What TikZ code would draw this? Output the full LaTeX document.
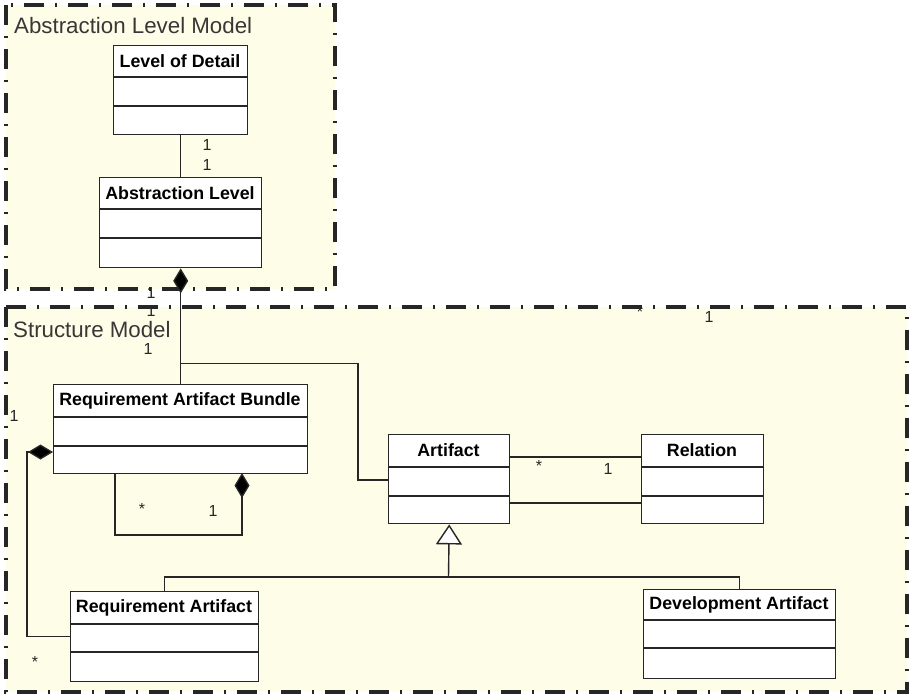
\documentclass[tikz,border=0pt]{standalone}
\usepackage{fontspec}
\setmainfont{Liberation Sans}
\usetikzlibrary{arrows.meta,calc}

\definecolor{pkgfill}{RGB}{254,254,232}
\definecolor{pkgtext}{RGB}{55,55,55}

\tikzset{
  pkgframe/.style={draw=black!85, fill=pkgfill, line width=3.2pt,
    dash pattern=on 20pt off 11pt on 2pt off 11pt},
  pkgtitle/.style={text=pkgtext, font=\fontsize{22.3}{25}\selectfont, inner sep=0pt},
  classnode/.style={draw=black!85, fill=white, line width=1.4pt, inner sep=0pt},
  classline/.style={draw=black!85, line width=1.4pt},
  classtitle/.style={font=\bfseries\fontsize{17.8}{20}\selectfont, inner sep=0pt},
  assoc/.style={draw=black!85, line width=1.4pt},
  composition/.style={assoc, {Diamond[length=25pt,width=15pt,fill=black]}-},
  generalization/.style={assoc, -{Triangle[open,length=20pt,width=26pt,fill=white]}},
  mult/.style={font=\fontsize{16}{18}\selectfont, inner sep=0pt, text=black!85},
}

% UML class: name, x1, y1, x2, y2, first divider y, second divider y, title
\newcommand\classbox[8]{%
  \node[classnode, anchor=north west, minimum width={#4-#2}, minimum height={#5-#3}] (#1) at (#2,#3) {};
  \draw[classline] (#2,#6) -- (#4,#6);
  \draw[classline] (#2,#7) -- (#4,#7);
  \node[classtitle] (#1-title) at ({(#2+#4)/2},{(#3+#6)/2}) {#8};
}

\begin{document}
\begin{tikzpicture}[x=1pt,y=-1pt]
  \useasboundingbox (0,0) rectangle (910,697);
  \fill[white] (0,0) rectangle (910,697);

  % packages
  \draw[pkgframe] (6,5) rectangle (335,289);
  \node[pkgtitle, anchor=base west] (pkgA) at (14,33) {Abstraction Level Model};
  \draw[pkgframe] (6,307) rectangle (907,692);
  \node[pkgtitle, anchor=base west] (pkgS) at (13,337) {Structure Model};

  % classes
  \classbox{lod}{113}{45}{247}{134}{77}{106}{Level of Detail}
  \classbox{al}{99}{177}{261}{267}{209}{238}{Abstraction Level}
  \classbox{rab}{53}{384}{307}{473}{417}{446}{Requirement Artifact Bundle}
  \classbox{art}{388}{434}{509}{523}{467}{496}{Artifact}
  \classbox{rel}{641}{434}{763}{523}{467}{496}{Relation}
  \classbox{ra}{70}{591}{258}{681}{624}{652}{Requirement Artifact}
  \classbox{da}{643}{589}{835}{678}{620}{648}{Development Artifact}

  % Level of Detail -- Abstraction Level
  \draw[assoc] (lod.south) -- (al.north);
  \node[mult] (m1) at (207,145) {1};
  \node[mult] (m2) at (207,165) {1};

  % Abstraction Level composed of bundles and artifacts
  \path (al.south) ++(0,95) coordinate (j1);
  \coordinate (bend1) at (358,480);
  \draw[composition] (al.south) -- (j1) -- (rab.north -| j1);
  \draw[assoc] (j1) -| (bend1) -- (art.west |- bend1);
  \node[mult] (m3) at (151,293) {1};
  \node[mult] (m4) at (151,311) {1};
  \node[mult] (m5) at (148,349) {1};

  % bundle contains requirement artifacts
  \coordinate (c1) at (27,452);
  \draw[composition] (rab.west |- c1) -- (c1) |- (ra.west);
  \node[mult] (m6) at (14,416) {1};
  \node[mult] (m7) at (35,662) {*};

  % bundle self-composition
  \coordinate (s1) at (242,473);
  \coordinate (s2) at (115,473);
  \draw[composition] (s1) -- ++(0,62) -| (s2);
  \node[mult] (m8) at (142,509) {*};
  \node[mult] (m9) at (213,511) {1};

  % Artifact -- Relation
  \draw[assoc] ([shift={(0,23)}]art.north east) -- ([shift={(0,23)}]rel.north west);
  \draw[assoc] ([shift={(0,69)}]art.north east) -- ([shift={(0,69)}]rel.north west);
  \node[mult] (m10) at (539,466) {*};
  \node[mult] (m11) at (608,469) {1};
  \node[mult] (m12) at (640,312) {*};
  \node[mult] (m13) at (709,317) {1};

  % generalization
  \coordinate (g1) at (448.5,577);
  \draw[generalization] (g1) -- (art.south);
  \draw[assoc] (ra.north) |- (g1) -| (da.north);
\end{tikzpicture}
\end{document}
